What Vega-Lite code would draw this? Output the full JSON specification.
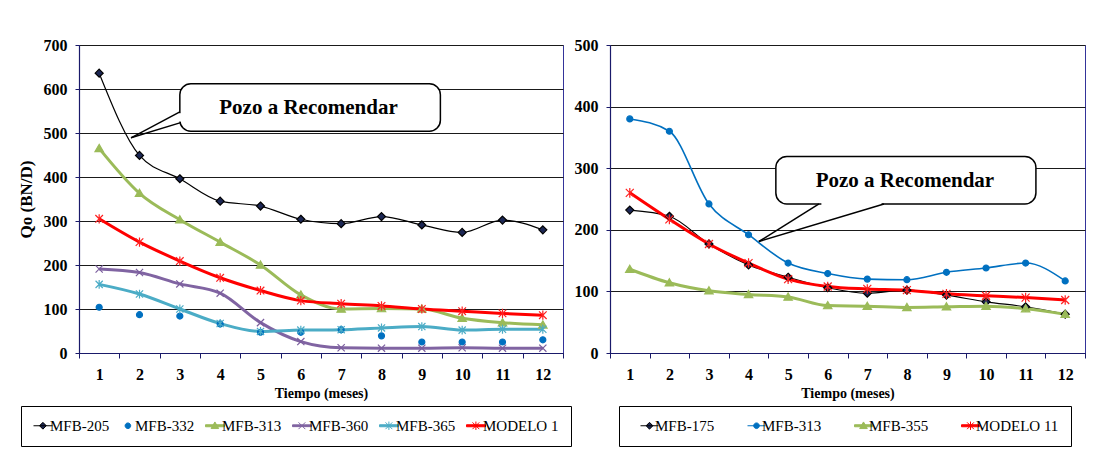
{
  "$schema": "https://vega.github.io/schema/vega-lite/v6.json",
  "padding": {"left": 16, "top": 36, "right": 0, "bottom": 0},
  "background": "white",
  "spacing": 47,
  "bounds": "flush",
  "config": {
    "font": "Liberation Serif",
    "view": {"stroke": "#34349a", "strokeWidth": 1},
    "axis": {
      "labelFont": "Liberation Serif", "labelFontWeight": "bold", "labelFontSize": 16, "labelColor": "#000",
      "titleFont": "Liberation Serif", "titleFontWeight": "bold", "titleColor": "#000",
      "domainColor": "#1a1a6a", "domainWidth": 1.2, "tickColor": "#1a1a6a", "tickSize": 4, "labelPadding": 8,
      "gridColor": "#1a1a1a", "gridOpacity": 1, "gridWidth": 1, "labelOverlap": false
    },
    "legend": {
      "labelFont": "Liberation Serif", "labelFontSize": 15, "labelColor": "#000",
      "strokeColor": "#000", "fillColor": "white", "padding": 12, "symbolSize": 64,
      "symbolStrokeWidth": 1, "symbolOpacity": 1
    }
  },
  "datasets": {
    "left": [
      {"s": "MFB-205", "m": 1, "q": 636}, {"s": "MFB-205", "m": 2, "q": 449}, {"s": "MFB-205", "m": 3, "q": 396}, {"s": "MFB-205", "m": 4, "q": 345}, {"s": "MFB-205", "m": 5, "q": 334}, {"s": "MFB-205", "m": 6, "q": 304}, {"s": "MFB-205", "m": 7, "q": 294}, {"s": "MFB-205", "m": 8, "q": 310}, {"s": "MFB-205", "m": 9, "q": 291}, {"s": "MFB-205", "m": 10, "q": 274}, {"s": "MFB-205", "m": 11, "q": 302}, {"s": "MFB-205", "m": 12, "q": 280},
      {"s": "MFB-332", "m": 1, "q": 104}, {"s": "MFB-332", "m": 2, "q": 87}, {"s": "MFB-332", "m": 3, "q": 84}, {"s": "MFB-332", "m": 4, "q": 66}, {"s": "MFB-332", "m": 5, "q": 47}, {"s": "MFB-332", "m": 6, "q": 47}, {"s": "MFB-332", "m": 7, "q": 53}, {"s": "MFB-332", "m": 8, "q": 39}, {"s": "MFB-332", "m": 9, "q": 25}, {"s": "MFB-332", "m": 10, "q": 25}, {"s": "MFB-332", "m": 11, "q": 25}, {"s": "MFB-332", "m": 12, "q": 30},
      {"s": "MFB-313", "m": 1, "q": 465}, {"s": "MFB-313", "m": 2, "q": 363}, {"s": "MFB-313", "m": 3, "q": 303}, {"s": "MFB-313", "m": 4, "q": 252}, {"s": "MFB-313", "m": 5, "q": 200}, {"s": "MFB-313", "m": 6, "q": 132}, {"s": "MFB-313", "m": 7, "q": 100}, {"s": "MFB-313", "m": 8, "q": 101}, {"s": "MFB-313", "m": 9, "q": 100}, {"s": "MFB-313", "m": 10, "q": 79}, {"s": "MFB-313", "m": 11, "q": 69}, {"s": "MFB-313", "m": 12, "q": 64},
      {"s": "MFB-360", "m": 1, "q": 191}, {"s": "MFB-360", "m": 2, "q": 183}, {"s": "MFB-360", "m": 3, "q": 157}, {"s": "MFB-360", "m": 4, "q": 136}, {"s": "MFB-360", "m": 5, "q": 69}, {"s": "MFB-360", "m": 6, "q": 26}, {"s": "MFB-360", "m": 7, "q": 12}, {"s": "MFB-360", "m": 8, "q": 11}, {"s": "MFB-360", "m": 9, "q": 11}, {"s": "MFB-360", "m": 10, "q": 12}, {"s": "MFB-360", "m": 11, "q": 11}, {"s": "MFB-360", "m": 12, "q": 11},
      {"s": "MFB-365", "m": 1, "q": 156}, {"s": "MFB-365", "m": 2, "q": 134}, {"s": "MFB-365", "m": 3, "q": 100}, {"s": "MFB-365", "m": 4, "q": 67}, {"s": "MFB-365", "m": 5, "q": 49}, {"s": "MFB-365", "m": 6, "q": 52}, {"s": "MFB-365", "m": 7, "q": 53}, {"s": "MFB-365", "m": 8, "q": 57}, {"s": "MFB-365", "m": 9, "q": 60}, {"s": "MFB-365", "m": 10, "q": 52}, {"s": "MFB-365", "m": 11, "q": 54}, {"s": "MFB-365", "m": 12, "q": 54},
      {"s": "MODELO 1", "m": 1, "q": 305}, {"s": "MODELO 1", "m": 2, "q": 252}, {"s": "MODELO 1", "m": 3, "q": 209}, {"s": "MODELO 1", "m": 4, "q": 171}, {"s": "MODELO 1", "m": 5, "q": 142}, {"s": "MODELO 1", "m": 6, "q": 119}, {"s": "MODELO 1", "m": 7, "q": 112}, {"s": "MODELO 1", "m": 8, "q": 107}, {"s": "MODELO 1", "m": 9, "q": 100}, {"s": "MODELO 1", "m": 10, "q": 95}, {"s": "MODELO 1", "m": 11, "q": 90}, {"s": "MODELO 1", "m": 12, "q": 86}
    ],
    "right": [
      {"s": "MFB-175", "m": 1, "q": 232}, {"s": "MFB-175", "m": 2, "q": 222}, {"s": "MFB-175", "m": 3, "q": 177}, {"s": "MFB-175", "m": 4, "q": 143}, {"s": "MFB-175", "m": 5, "q": 123}, {"s": "MFB-175", "m": 6, "q": 106}, {"s": "MFB-175", "m": 7, "q": 97}, {"s": "MFB-175", "m": 8, "q": 102}, {"s": "MFB-175", "m": 9, "q": 94}, {"s": "MFB-175", "m": 10, "q": 83}, {"s": "MFB-175", "m": 11, "q": 75}, {"s": "MFB-175", "m": 12, "q": 63},
      {"s": "MFB-313", "m": 1, "q": 380}, {"s": "MFB-313", "m": 2, "q": 360}, {"s": "MFB-313", "m": 3, "q": 242}, {"s": "MFB-313", "m": 4, "q": 192}, {"s": "MFB-313", "m": 5, "q": 146}, {"s": "MFB-313", "m": 6, "q": 129}, {"s": "MFB-313", "m": 7, "q": 120}, {"s": "MFB-313", "m": 8, "q": 119}, {"s": "MFB-313", "m": 9, "q": 131}, {"s": "MFB-313", "m": 10, "q": 138}, {"s": "MFB-313", "m": 11, "q": 146}, {"s": "MFB-313", "m": 12, "q": 117},
      {"s": "MFB-355", "m": 1, "q": 136}, {"s": "MFB-355", "m": 2, "q": 114}, {"s": "MFB-355", "m": 3, "q": 101}, {"s": "MFB-355", "m": 4, "q": 95}, {"s": "MFB-355", "m": 5, "q": 91}, {"s": "MFB-355", "m": 6, "q": 77}, {"s": "MFB-355", "m": 7, "q": 76}, {"s": "MFB-355", "m": 8, "q": 74}, {"s": "MFB-355", "m": 9, "q": 75}, {"s": "MFB-355", "m": 10, "q": 76}, {"s": "MFB-355", "m": 11, "q": 72}, {"s": "MFB-355", "m": 12, "q": 63},
      {"s": "MODELO 11", "m": 1, "q": 260}, {"s": "MODELO 11", "m": 2, "q": 217}, {"s": "MODELO 11", "m": 3, "q": 177}, {"s": "MODELO 11", "m": 4, "q": 146}, {"s": "MODELO 11", "m": 5, "q": 120}, {"s": "MODELO 11", "m": 6, "q": 108}, {"s": "MODELO 11", "m": 7, "q": 104}, {"s": "MODELO 11", "m": 8, "q": 102}, {"s": "MODELO 11", "m": 9, "q": 96}, {"s": "MODELO 11", "m": 10, "q": 93}, {"s": "MODELO 11", "m": 11, "q": 90}, {"s": "MODELO 11", "m": 12, "q": 86}
    ],
    "leftBox": [{"x1": 3.0, "x2": 9.46, "y1": 504, "y2": 612, "tx": 6.19, "ty": 556, "label": "Pozo a Recomendar"}],
    "leftGap": [{"x1": 3.0, "y1": 526, "y2": 545}],
    "leftPtr": [{"x1": 3.0, "y1": 548, "x2": 1.79, "y2": 489}, {"x1": 1.79, "y1": 489, "x2": 3.0, "y2": 523}],
    "rightBox": [{"x1": 4.69, "x2": 11.26, "y1": 242, "y2": 319, "tx": 7.95, "ty": 279, "label": "Pozo a Recomendar"}],
    "rightGap": [{"x1": 5.84, "x2": 7.36, "y1": 242}],
    "rightPtr": [{"x1": 5.78, "y1": 242, "x2": 4.26, "y2": 181}, {"x1": 4.26, "y1": 181, "x2": 7.42, "y2": 242}]
  },
  "resolve": {
    "scale": {"x": "independent", "y": "independent", "shape": "independent", "fill": "independent", "stroke": "independent"},
    "axis": {"x": "independent", "y": "independent"},
    "legend": {"shape": "independent", "fill": "independent", "stroke": "independent"}
  },
  "hconcat": [
    {
      "width": 484,
      "height": 308,
      "layer": [
        {
          "data": {"name": "left"},
          "transform": [{"filter": "datum.s !== 'MFB-332'"}],
          "mark": {"type": "line", "interpolate": "monotone"},
          "encoding": {
            "x": {"field": "m", "type": "quantitative", "scale": {"domain": [0.5, 12.5], "nice": false, "zero": false},
              "axis": {"values": [0.5, 1.5, 2.5, 3.5, 4.5, 5.5, 6.5, 7.5, 8.5, 9.5, 10.5, 11.5, 12.5], "tickCount": 30, "labelExpr": "datum.value < 12 ? format(datum.value + 0.5, 'd') : ''", "labelOffset": 20.17, "labelFlush": false, "labelOverlap": false, "labelBound": false, "grid": false, "title": "Tiempo (meses)", "titleFontSize": 14, "titlePadding": 4, "tickSize": 5}},
            "y": {"field": "q", "type": "quantitative", "scale": {"domain": [0, 700], "nice": false},
              "axis": {"values": [0, 100, 200, 300, 400, 500, 600, 700], "tickCount": 30, "grid": true, "title": "Qo (BN/D)", "titleFontSize": 17, "titlePadding": 8}},
            "detail": {"field": "s", "type": "nominal"},
            "stroke": {"condition": [
                {"test": "datum.s === 'MFB-205'", "value": "#000000"},
                {"test": "datum.s === 'MFB-313'", "value": "#9bbb59"},
                {"test": "datum.s === 'MFB-360'", "value": "#8064a2"},
                {"test": "datum.s === 'MFB-365'", "value": "#4bacc6"}
              ], "value": "#ff0000"},
            "strokeWidth": {"condition": {"test": "datum.s === 'MFB-205'", "value": 1.2}, "value": 3}
          }
        },
        {
          "data": {"name": "left"},
          "mark": {"type": "point", "filled": true, "size": 64, "strokeWidth": 1.2, "opacity": 1},
          "encoding": {
            "x": {"field": "m", "type": "quantitative"},
            "y": {"field": "q", "type": "quantitative"},
            "shape": {"condition": [
                {"test": "datum.s === 'MFB-205'", "value": "M0,-1L1,0L0,1L-1,0Z"},
                {"test": "datum.s === 'MFB-332'", "value": "M-0.75,0A0.75,0.75 0 1,0 0.75,0A0.75,0.75 0 1,0 -0.75,0Z"},
                {"test": "datum.s === 'MFB-313'", "value": "M0,-1L1.05,0.8L-1.05,0.8Z"},
                {"test": "datum.s === 'MFB-360'", "value": "M-0.9,-0.9L0.9,0.9M-0.9,0.9L0.9,-0.9"},
                {"test": "datum.s === 'MFB-365'", "value": "M-0.9,-0.9L0.9,0.9M-0.9,0.9L0.9,-0.9M0,-1.1L0,1.1"}
              ], "value": "M-0.95,-0.95L0.95,0.95M-0.95,0.95L0.95,-0.95M0,-1.15L0,1.15"},
            "fill": {"condition": [
                {"test": "datum.s === 'MFB-205'", "value": "#1c2754"},
                {"test": "datum.s === 'MFB-332'", "value": "#0070c0"},
                {"test": "datum.s === 'MFB-313'", "value": "#9bbb59"},
                {"test": "datum.s === 'MFB-360'", "value": "#8064a2"},
                {"test": "datum.s === 'MFB-365'", "value": "#4bacc6"}
              ], "value": "#ff2020"},
            "stroke": {"condition": [
                {"test": "datum.s === 'MFB-205'", "value": "#000000"},
                {"test": "datum.s === 'MFB-332'", "value": "#0070c0"},
                {"test": "datum.s === 'MFB-313'", "value": "#9bbb59"},
                {"test": "datum.s === 'MFB-360'", "value": "#7b5e9e"},
                {"test": "datum.s === 'MFB-365'", "value": "#4bacc6"}
              ], "value": "#ff2020"}
          }
        },
        {
          "data": {"name": "left"},
          "transform": [{"filter": "false"}],
          "mark": {"type": "point", "filled": true},
          "encoding": {
            "x": {"field": "m", "type": "quantitative"},
            "y": {"field": "q", "type": "quantitative"},
            "shape": {"field": "s", "type": "nominal",
              "scale": {"domain": ["MFB-205", "MFB-332", "MFB-313", "MFB-360", "MFB-365", "MODELO 1"],
                "range": [
                  "M-1.75,0L3,0M0.6,-0.85L1.45,0L0.6,0.85L-0.25,0Z",
                  "M-0.1,0A0.7,0.7 0 1,0 1.3,0A0.7,0.7 0 1,0 -0.1,0Z",
                  "M-1.75,-0.25L3,-0.25L3,0.25L-1.75,0.25ZM0.6,-0.95L1.55,0.7L-0.35,0.7Z",
                  "M-1.75,-0.22L3,-0.22L3,0.22L-1.75,0.22ZM-0.25,-0.85L1.45,0.85M-0.25,0.85L1.45,-0.85",
                  "M-1.75,-0.25L3,-0.25L3,0.25L-1.75,0.25ZM-0.25,-0.85L1.45,0.85M-0.25,0.85L1.45,-0.85M0.6,-1.05L0.6,1.05",
                  "M-1.75,-0.25L3,-0.25L3,0.25L-1.75,0.25ZM-0.25,-0.85L1.45,0.85M-0.25,0.85L1.45,-0.85M0.6,-1.05L0.6,1.05"
                ]},
              "legend": {"title": null, "orient": "none", "legendX": -58, "legendY": 361, "direction": "horizontal",
                "columnPadding": 8, "labelOffset": 2, "symbolSize": 64, "symbolStrokeWidth": 1, "symbolOpacity": 1}},
            "fill": {"field": "s", "type": "nominal",
              "scale": {"domain": ["MFB-205", "MFB-332", "MFB-313", "MFB-360", "MFB-365", "MODELO 1"], "range": ["#1c2754", "#0070c0", "#9bbb59", "#8064a2", "#4bacc6", "#ff0000"]},
              "legend": {"title": null, "orient": "none", "legendX": -58, "legendY": 361, "direction": "horizontal",
                "columnPadding": 8, "labelOffset": 2, "symbolSize": 64, "symbolStrokeWidth": 1, "symbolOpacity": 1}},
            "stroke": {"field": "s", "type": "nominal",
              "scale": {"domain": ["MFB-205", "MFB-332", "MFB-313", "MFB-360", "MFB-365", "MODELO 1"], "range": ["#000000", "#0070c0", "#9bbb59", "#8064a2", "#4bacc6", "#ff0000"]},
              "legend": {"title": null, "orient": "none", "legendX": -58, "legendY": 361, "direction": "horizontal",
                "columnPadding": 8, "labelOffset": 2, "symbolSize": 64, "symbolStrokeWidth": 1, "symbolOpacity": 1}}
          }
        },
        {
          "data": {"name": "leftBox"},
          "mark": {"type": "rect", "fill": "white", "stroke": "#000", "strokeWidth": 1.5, "cornerRadius": 11},
          "encoding": {
            "x": {"field": "x1", "type": "quantitative"}, "x2": {"field": "x2"},
            "y": {"field": "y1", "type": "quantitative"}, "y2": {"field": "y2"}
          }
        },
        {
          "data": {"name": "leftGap"},
          "mark": {"type": "rule", "color": "white", "strokeWidth": 3},
          "encoding": {
            "x": {"field": "x1", "type": "quantitative"},
            "y": {"field": "y1", "type": "quantitative"}, "y2": {"field": "y2"}
          }
        },
        {
          "data": {"name": "leftPtr"},
          "mark": {"type": "rule", "color": "#000", "strokeWidth": 1.5},
          "encoding": {
            "x": {"field": "x1", "type": "quantitative"}, "x2": {"field": "x2"},
            "y": {"field": "y1", "type": "quantitative"}, "y2": {"field": "y2"}
          }
        },
        {
          "data": {"name": "leftBox"},
          "mark": {"type": "text", "font": "Liberation Serif", "fontWeight": "bold", "fontSize": 21, "align": "center", "baseline": "middle", "color": "#000"},
          "encoding": {
            "x": {"field": "tx", "type": "quantitative"},
            "y": {"field": "ty", "type": "quantitative"},
            "text": {"field": "label"}
          }
        }
      ]
    },
    {
      "width": 475,
      "height": 308,
      "layer": [
        {
          "data": {"name": "right"},
          "mark": {"type": "line", "interpolate": "monotone"},
          "encoding": {
            "x": {"field": "m", "type": "quantitative", "scale": {"domain": [0.5, 12.5], "nice": false, "zero": false},
              "axis": {"values": [0.5, 1.5, 2.5, 3.5, 4.5, 5.5, 6.5, 7.5, 8.5, 9.5, 10.5, 11.5, 12.5], "tickCount": 30, "labelExpr": "datum.value < 12 ? format(datum.value + 0.5, 'd') : ''", "labelOffset": 19.8, "labelFlush": false, "labelOverlap": false, "labelBound": false, "grid": false, "title": "Tiempo (meses)", "titleFontSize": 14, "titlePadding": 4, "tickSize": 5}},
            "y": {"field": "q", "type": "quantitative", "scale": {"domain": [0, 500], "nice": false},
              "axis": {"values": [0, 100, 200, 300, 400, 500], "tickCount": 30, "grid": true, "title": null}},
            "detail": {"field": "s", "type": "nominal"},
            "stroke": {"condition": [
                {"test": "datum.s === 'MFB-175'", "value": "#000000"},
                {"test": "datum.s === 'MFB-313'", "value": "#0070c0"},
                {"test": "datum.s === 'MFB-355'", "value": "#9bbb59"}
              ], "value": "#ff0000"},
            "strokeWidth": {"condition": [{"test": "datum.s === 'MFB-175'", "value": 1.2}, {"test": "datum.s === 'MFB-313'", "value": 1.6}], "value": 3}
          }
        },
        {
          "data": {"name": "right"},
          "mark": {"type": "point", "filled": true, "size": 64, "strokeWidth": 1.2, "opacity": 1},
          "encoding": {
            "x": {"field": "m", "type": "quantitative"},
            "y": {"field": "q", "type": "quantitative"},
            "shape": {"condition": [
                {"test": "datum.s === 'MFB-175'", "value": "M0,-1L1,0L0,1L-1,0Z"},
                {"test": "datum.s === 'MFB-313'", "value": "M-0.75,0A0.75,0.75 0 1,0 0.75,0A0.75,0.75 0 1,0 -0.75,0Z"},
                {"test": "datum.s === 'MFB-355'", "value": "M0,-1L1.05,0.8L-1.05,0.8Z"}
              ], "value": "M-1,-1L1,1M-1,1L1,-1M0,-1.2L0,1.2"},
            "fill": {"condition": [
                {"test": "datum.s === 'MFB-175'", "value": "#1c2754"},
                {"test": "datum.s === 'MFB-313'", "value": "#0070c0"},
                {"test": "datum.s === 'MFB-355'", "value": "#9bbb59"}
              ], "value": "#ff2020"},
            "stroke": {"condition": [
                {"test": "datum.s === 'MFB-175'", "value": "#000000"},
                {"test": "datum.s === 'MFB-313'", "value": "#0070c0"},
                {"test": "datum.s === 'MFB-355'", "value": "#9bbb59"}
              ], "value": "#ff2020"}
          }
        },
        {
          "data": {"name": "right"},
          "transform": [{"filter": "false"}],
          "mark": {"type": "point", "filled": true},
          "encoding": {
            "x": {"field": "m", "type": "quantitative"},
            "y": {"field": "q", "type": "quantitative"},
            "shape": {"field": "s", "type": "nominal",
              "scale": {"domain": ["MFB-175", "MFB-313", "MFB-355", "MODELO 11"],
                "range": [
                  "M0.5,0L5,0M2.75,-0.85L3.6,0L2.75,0.85L1.9,0Z",
                  "M0.5,0L5,0M2.05,0A0.7,0.7 0 1,0 3.45,0A0.7,0.7 0 1,0 2.05,0Z",
                  "M0.5,-0.25L5,-0.25L5,0.25L0.5,0.25ZM2.75,-0.95L3.7,0.7L1.8,0.7Z",
                  "M0.5,-0.25L5,-0.25L5,0.25L0.5,0.25ZM1.9,-0.85L3.6,0.85M1.9,0.85L3.6,-0.85M2.75,-1.05L2.75,1.05"
                ]},
              "legend": {"title": null, "orient": "none", "legendX": 9, "legendY": 361, "direction": "horizontal",
                "columnPadding": 23, "labelOffset": 9, "symbolSize": 64, "symbolStrokeWidth": 1, "symbolOpacity": 1}},
            "fill": {"field": "s", "type": "nominal",
              "scale": {"domain": ["MFB-175", "MFB-313", "MFB-355", "MODELO 11"], "range": ["#1c2754", "#0070c0", "#9bbb59", "#ff0000"]},
              "legend": {"title": null, "orient": "none", "legendX": 9, "legendY": 361, "direction": "horizontal",
                "columnPadding": 23, "labelOffset": 9, "symbolSize": 64, "symbolStrokeWidth": 1, "symbolOpacity": 1}},
            "stroke": {"field": "s", "type": "nominal",
              "scale": {"domain": ["MFB-175", "MFB-313", "MFB-355", "MODELO 11"], "range": ["#000000", "#0070c0", "#9bbb59", "#ff0000"]},
              "legend": {"title": null, "orient": "none", "legendX": 9, "legendY": 361, "direction": "horizontal",
                "columnPadding": 23, "labelOffset": 9, "symbolSize": 64, "symbolStrokeWidth": 1, "symbolOpacity": 1}}
          }
        },
        {
          "data": {"name": "rightBox"},
          "mark": {"type": "rect", "fill": "white", "stroke": "#000", "strokeWidth": 1.5, "cornerRadius": 11},
          "encoding": {
            "x": {"field": "x1", "type": "quantitative"}, "x2": {"field": "x2"},
            "y": {"field": "y1", "type": "quantitative"}, "y2": {"field": "y2"}
          }
        },
        {
          "data": {"name": "rightGap"},
          "mark": {"type": "rule", "color": "white", "strokeWidth": 3},
          "encoding": {
            "x": {"field": "x1", "type": "quantitative"}, "x2": {"field": "x2"},
            "y": {"field": "y1", "type": "quantitative"}
          }
        },
        {
          "data": {"name": "rightPtr"},
          "mark": {"type": "rule", "color": "#000", "strokeWidth": 1.5},
          "encoding": {
            "x": {"field": "x1", "type": "quantitative"}, "x2": {"field": "x2"},
            "y": {"field": "y1", "type": "quantitative"}, "y2": {"field": "y2"}
          }
        },
        {
          "data": {"name": "rightBox"},
          "mark": {"type": "text", "font": "Liberation Serif", "fontWeight": "bold", "fontSize": 21, "align": "center", "baseline": "middle", "color": "#000"},
          "encoding": {
            "x": {"field": "tx", "type": "quantitative"},
            "y": {"field": "ty", "type": "quantitative"},
            "text": {"field": "label"}
          }
        }
      ]
    }
  ]
}
